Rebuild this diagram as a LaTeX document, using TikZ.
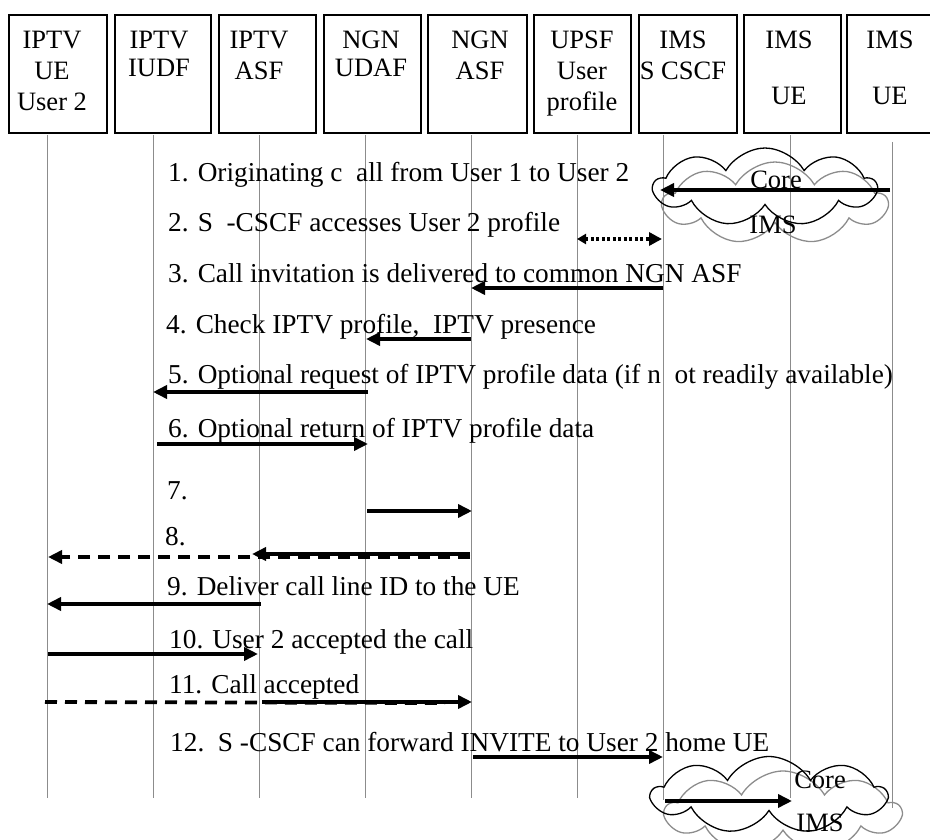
\documentclass[tikz,border=0pt]{standalone}
\usepackage{fontspec}
\setmainfont{Liberation Serif}
\usetikzlibrary{arrows.meta,shapes.symbols}
\begin{document}
\begin{tikzpicture}[x=1pt,y=-1pt,
  hdr/.style={draw=black,line width=1.4pt,minimum height=118pt,inner sep=0pt},
  hdrtext/.style={anchor=north,inner sep=0pt,align=center,font=\fontsize{26.5}{31}\selectfont},
  life/.style={draw=black!45,line width=1pt},
  msg/.style={line width=3.8pt,-{Triangle[length=14pt,width=13pt]}},
  dmsg/.style={msg,dash pattern=on 12pt off 8pt},
  lbl/.style={anchor=base west,inner sep=0pt,font=\fontsize{27.3}{32}\selectfont},
  cloudblk/.style={cloud,cloud puffs=9,cloud puff arc=120,cloud ignores aspect,draw=black,line width=1.3pt,inner sep=0pt},
  cloudgry/.style={cloudblk,draw=black!45},
  cltext/.style={inner sep=0pt,font=\fontsize{26.5}{31}\selectfont},
]
\useasboundingbox (0,0) rectangle (930,840);
\clip (0,0) rectangle (930,840);

% header boxes
\node[hdr,minimum width=98pt] (b1) at (58,74) {};
\node[hdr,minimum width=96pt] (b2) at (163,74) {};
\node[hdr,minimum width=97pt] (b3) at (267.5,74) {};
\node[hdr,minimum width=97pt] (b4) at (372.5,74) {};
\node[hdr,minimum width=99pt] (b5) at (477.5,74) {};
\node[hdr,minimum width=97pt] (b6) at (582.5,74) {};
\node[hdr,minimum width=98pt] (b7) at (688,74) {};
\node[hdr,minimum width=97pt] (b8) at (792.5,74) {};
\node[hdr,minimum width=97pt] (b9) at (895.5,74) {};

\node[hdrtext] (h1) at (52,30.5) {IPTV\\UE\\User 2};
\node[hdrtext] (h2) at (159,30.5) {IPTV\\[-3pt]IUDF};
\node[hdrtext] (h3) at (259,30.5) {IPTV\\ASF};
\node[hdrtext] (h4) at (371,30.5) {NGN\\[-3pt]UDAF};
\node[hdrtext] (h5) at (480,30.5) {NGN\\ASF};
\node[hdrtext] (h6) at (582,30.5) {UPSF\\User\\profile};
\node[hdrtext] (h7) at (683,30.5) {IMS\\S CSCF};
\node[hdrtext] (h8) at (789,30.5) {IMS\\[25pt]UE};
\node[hdrtext] (h9) at (890,30.5) {IMS\\[25pt]UE};

% lifelines
\foreach \i/\x/\t/\e in {1/47.5/135/798,2/153.5/135/798,3/259.5/135/798,4/365.5/135/798,5/471.5/135/798,6/577.5/135/798,7/663/135/800,8/790/135/798,9/892/142/808}{
  \coordinate (lt\i) at (\x,\t);
  \coordinate (lb\i) at (\x,\e);
  \draw[life] (lt\i) -- (lb\i);
}

% clouds
\node[cloudgry,minimum width=224pt,minimum height=82pt] (cg1) at (775,203) {};
\node[cloudblk,minimum width=222pt,minimum height=78pt] (cb1) at (765,187) {};
\node[cloudgry,minimum width=235pt,minimum height=82pt] (cg2) at (783,812) {};
\node[cloudblk,minimum width=234pt,minimum height=77pt] (cb2) at (769,795) {};
\node[cltext] (core1) at (776,180) {Core};
\node[cltext] (ims1) at (773,225) {IMS};
\node[cltext] (core2) at (820,780) {Core};
\node[cltext] (ims2) at (820,823) {IMS};

% message end points
\coordinate (m1a) at (890,190);  \coordinate (m1b) at (660,190);
\coordinate (m2a) at (577,239);  \coordinate (m2b) at (662,239);
\coordinate (m3a) at (663,288);  \coordinate (m3b) at (471,288);
\coordinate (m4a) at (471,339);  \coordinate (m4b) at (366,339);
\coordinate (m5a) at (368,392);  \coordinate (m5b) at (153,392);
\coordinate (m6a) at (157,444);  \coordinate (m6b) at (368,444);
\coordinate (m7a) at (367,511);  \coordinate (m7b) at (472,511);
\coordinate (m8a) at (470,557);  \coordinate (m8b) at (48,557);
\coordinate (m8c) at (470,554);  \coordinate (m8d) at (252,554);
\coordinate (m9a) at (261,604);  \coordinate (m9b) at (47,604);
\coordinate (m10a) at (48,654);  \coordinate (m10b) at (258,654);
\coordinate (m11a) at (45,702);  \coordinate (m11b) at (445,703);
\coordinate (m11c) at (262,702); \coordinate (m11d) at (472,702);
\coordinate (m12a) at (473,757); \coordinate (m12b) at (663,757);
\coordinate (m13a) at (665,801); \coordinate (m13b) at (792,801);

\draw[msg] (m1a) -- (m1b);
\draw[line width=3.5pt,dash pattern=on 3pt off 2.5pt,{Triangle[length=9pt,width=10pt]}-{Triangle[length=13pt,width=13pt]}] (m2a) -- (m2b);
\draw[msg] (m3a) -- (m3b);
\draw[msg] (m4a) -- (m4b);
\draw[msg] (m5a) -- (m5b);
\draw[msg] (m6a) -- (m6b);
\draw[msg] (m7a) -- (m7b);
\draw[dmsg] (m8a) -- (m8b);
\draw[msg] (m8c) -- (m8d);
\draw[msg] (m9a) -- (m9b);
\draw[msg] (m10a) -- (m10b);
\draw[line width=3.8pt,dash pattern=on 12pt off 8pt] (m11a) -- (m11b);
\draw[msg] (m11c) -- (m11d);
\draw[msg] (m12a) -- (m12b);
\draw[msg] (m13a) -- (m13b);

% labels
\node[lbl] (l1) at (168,182) {1. Originating c\ \ all from User 1 to User 2};
\node[lbl] (l2) at (168,232) {2. S\ \ -CSCF accesses User 2 profile};
\node[lbl] (l3) at (168,283) {3. Call invitation is delivered to common NGN ASF};
\node[lbl] (l4) at (166,333) {4. Check IPTV profile,\ \ IPTV presence};
\node[lbl] (l5) at (168,383) {5. Optional request of IPTV profile data (if n\ \ ot readily available)};
\node[lbl] (l6) at (168,437) {6. Optional return of IPTV profile data};
\node[lbl] (l7) at (167,499) {7.};
\node[lbl] (l8) at (165,545) {8.};
\node[lbl] (l9) at (167,595) {9. Deliver call line ID to the UE};
\node[lbl] (l10) at (169,648) {10. User 2 accepted the call};
\node[lbl] (l11) at (169,693) {11. Call accepted};
\node[lbl] (l12) at (170,751) {12.\ \ S -CSCF can forward INVITE to User 2 home UE};
\end{tikzpicture}
\end{document}
